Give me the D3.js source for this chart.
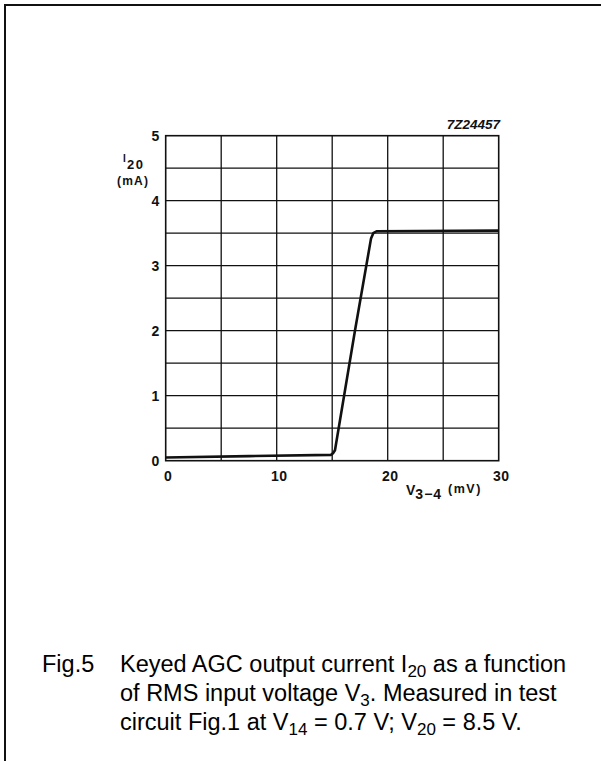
<!DOCTYPE html>
<html>
<head>
<meta charset="utf-8">
<script src="https://cdn.jsdelivr.net/npm/d3@7"></script>
<style>
  html, body { margin: 0; padding: 0; background: #fff; }
  svg { display: block; }
</style>
</head>
<body>
<script>
// values
var xTicks = [0, 10, 20, 30];
var yTicks = [0, 1, 2, 3, 4, 5];
var xGrid = [5, 10, 15, 20, 25];
var yGrid = [0.5, 1, 1.5, 2, 2.5, 3, 3.5, 4, 4.5];

// keyed AGC output current I20 (mA) vs V3-4 (mV)
var voltage = [0, 7.5, 14.9, 15.1, 15.25, 17.05, 18.5, 18.7, 19.0, 30];
var current = [0.05, 0.07, 0.09, 0.12, 0.16, 2.0, 3.42, 3.5, 3.53, 3.54];

var w = 601;
var h = 761;

var svg = d3.select("body")
            .append("svg")
            .attr("width", w)
            .attr("height", h);

// page frame, it runs off the right and bottom edge
svg.append("rect")
   .attr("x", 5)
   .attr("y", 5)
   .attr("width", 640)
   .attr("height", 800)
   .attr("fill", "none")
   .attr("stroke", "#111")
   .attr("stroke-width", 2);

var xScale = d3.scaleLinear()
               .domain([0, 30])
               .range([165.7, 498.7]);
var yScale = d3.scaleLinear()
               .domain([0, 5])
               .range([460.7, 135.7]);

var plot = svg.append("g");

// grid lines
plot.selectAll("line.vgrid")
    .data(xGrid)
    .enter()
    .append("line")
    .attr("class", "vgrid")
    .attr("x1", function(d) { return xScale(d); })
    .attr("x2", function(d) { return xScale(d); })
    .attr("y1", yScale(0))
    .attr("y2", yScale(5))
    .attr("stroke", "#111")
    .attr("stroke-width", 1.3);

plot.selectAll("line.hgrid")
    .data(yGrid)
    .enter()
    .append("line")
    .attr("class", "hgrid")
    .attr("x1", xScale(0))
    .attr("x2", xScale(30))
    .attr("y1", function(d) { return yScale(d); })
    .attr("y2", function(d) { return yScale(d); })
    .attr("stroke", "#111")
    .attr("stroke-width", 1.3);

// outer frame of the plot
plot.append("rect")
    .attr("x", xScale(0))
    .attr("y", yScale(5))
    .attr("width", xScale(30) - xScale(0))
    .attr("height", yScale(0) - yScale(5))
    .attr("fill", "none")
    .attr("stroke", "#111")
    .attr("stroke-width", 1.6);

// tick labels through axes
var xAxis = svg.append("g")
   .attr("transform", "translate(0," + yScale(0) + ")")
   .call(d3.axisBottom(xScale).tickValues(xTicks).tickFormat(d3.format("d"))
           .tickSize(0).tickPadding(10));
var yAxis = svg.append("g")
   .attr("transform", "translate(" + xScale(0) + ",0)")
   .call(d3.axisLeft(yScale).tickValues(yTicks).tickFormat(d3.format("d"))
           .tickSize(0).tickPadding(6));

[xAxis, yAxis].forEach(function(a) {
  a.select(".domain").remove();
  a.selectAll("text")
   .attr("font-family", "Liberation Sans, Arial, sans-serif")
   .attr("font-weight", "bold")
   .attr("font-size", 14)
   .attr("letter-spacing", 0.5)
   .attr("fill", "#111");
});
xAxis.selectAll("text").attr("dx", 2);

// the curve
var line = d3.line()
             .x(function(d) { return xScale(d[0]); })
             .y(function(d) { return yScale(d[1]); });

plot.append("path")
    .datum(d3.zip(voltage, current))
    .attr("d", line)
    .attr("fill", "none")
    .attr("stroke", "#111")
    .attr("stroke-width", 2.6)
    .attr("stroke-linejoin", "round");

// axis titles
var lab = svg.append("g")
             .attr("font-family", "Liberation Sans, Arial, sans-serif")
             .attr("font-weight", "bold")
             .attr("fill", "#111");

lab.append("text")
   .attr("x", 123)
   .attr("y", 162)
   .attr("font-size", 10)
   .text("I");
lab.append("text")
   .attr("x", 127)
   .attr("y", 168.5)
   .attr("font-size", 13)
   .attr("letter-spacing", 1.5)
   .text("20");
lab.append("text")
   .attr("x", 117)
   .attr("y", 185)
   .attr("font-size", 12)
   .attr("letter-spacing", 1.2)
   .text("(mA)");

var vLab = lab.append("text")
   .attr("x", 406)
   .attr("y", 495)
   .attr("font-size", 14);
vLab.append("tspan").text("V");
vLab.append("tspan").attr("dy", 4).attr("letter-spacing", 1).text("3\u22124");
vLab.append("tspan").attr("dy", -6).attr("dx", 6)
    .attr("font-size", 12.5).attr("letter-spacing", 1.5).text("(mV)");

lab.append("text")
   .attr("x", 500)
   .attr("y", 128.5)
   .attr("text-anchor", "end")
   .attr("font-size", 13.5)
   .attr("font-style", "italic")
   .text("7Z24457");

// caption
var caption = svg.append("g")
                 .attr("font-family", "Liberation Sans, Arial, sans-serif")
                 .attr("font-size", 23.5)
                 .attr("fill", "#000");

caption.append("text")
       .attr("x", 42)
       .attr("y", 672)
       .text("Fig.5");

var captionLines = [
  [["Keyed AGC output current I", 0], ["20", 1], [" as a function", 0]],
  [["of RMS input voltage V", 0], ["3", 1], [". Measured in test", 0]],
  [["circuit Fig.1 at V", 0], ["14", 1], [" = 0.7 V; V", 0], ["20", 1], [" = 8.5 V.", 0]]
];
var captionY = [672, 701, 730];

captionLines.forEach(function(parts, i) {
  var t = caption.append("text")
                 .attr("x", 120)
                 .attr("y", captionY[i]);
  var low = false;
  parts.forEach(function(p) {
    var s = t.append("tspan").text(p[0]);
    if (p[1] && !low) { s.attr("dy", 5).attr("font-size", 17); low = true; }
    else if (p[1]) { s.attr("font-size", 17); }
    else if (low) { s.attr("dy", -5); low = false; }
  });
});
</script>
</body>
</html>
